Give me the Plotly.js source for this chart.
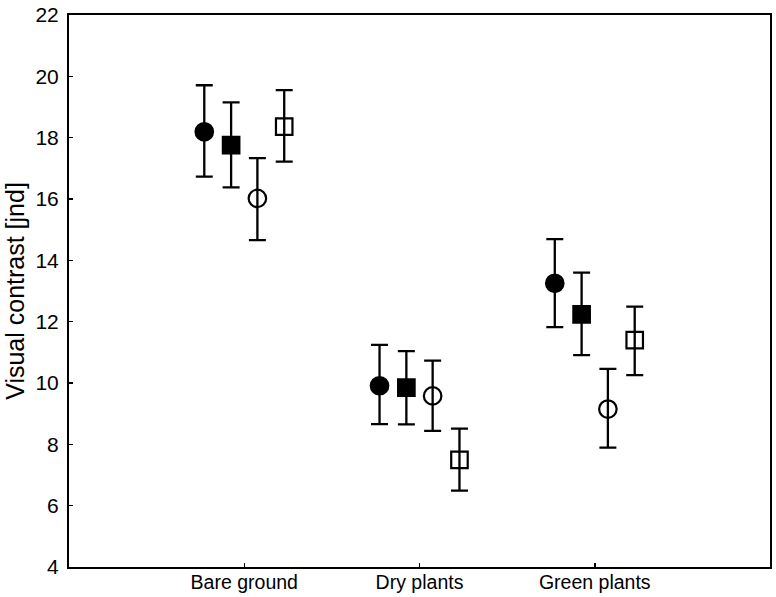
<!DOCTYPE html>
<html>
<head>
<meta charset="utf-8">
<script src="https://cdn.plot.ly/plotly-3.0.1.min.js"></script>
<style>html,body{margin:0;padding:0;background:#fff;}#chart{width:776px;height:597px;}</style>
</head>
<body>
<div id="chart"></div>
<script>
var categories = ["Bare ground", "Dry plants", "Green plants"];

// Means and error-bar extents per series
var filledCircleMean  = [18.19, 9.91, 13.25];
var filledCircleUpper = [19.71, 11.24, 14.69];
var filledCircleLower = [16.73, 8.66, 11.82];

var filledSquareMean  = [17.76, 9.85, 12.24];
var filledSquareUpper = [19.15, 11.04, 13.60];
var filledSquareLower = [16.38, 8.65, 10.91];

var openCircleMean  = [16.02, 9.58, 9.15];
var openCircleUpper = [17.33, 10.73, 10.46];
var openCircleLower = [14.66, 8.44, 7.89];

var openSquareMean  = [18.36, 7.49, 11.40];
var openSquareUpper = [19.55, 8.51, 12.49];
var openSquareLower = [17.22, 6.49, 10.26];

var yTicks = [4, 6, 8, 10, 12, 14, 16, 18, 20, 22];

var catIndex = categories.map(function(_, i){ return i + 1; });

function mk(mean, upper, lower, offset, symbol){
  return {
    type: 'scatter',
    mode: 'markers',
    x: catIndex.map(function(c){ return c + offset; }),
    y: mean,
    error_y: {
      type: 'data',
      symmetric: false,
      array: upper.map(function(u, i){ return u - mean[i]; }),
      arrayminus: lower.map(function(l, i){ return mean[i] - l; }),
      color: '#000',
      thickness: 2.3,
      width: 8.5
    },
    marker: {
      symbol: symbol,
      size: symbol.indexOf('square') >= 0 ? 16.5 : 17.5,
      color: '#000',
      line: {color: '#000', width: 2.2}
    },
    showlegend: false,
    hoverinfo: 'x+y'
  };
}

var data = [
  mk(filledCircleMean, filledCircleUpper, filledCircleLower, -0.228, 'circle'),
  mk(filledSquareMean, filledSquareUpper, filledSquareLower, -0.075, 'square'),
  mk(openCircleMean, openCircleUpper, openCircleLower, 0.075, 'circle-open'),
  mk(openSquareMean, openSquareUpper, openSquareLower, 0.228, 'square-open')
];

var layout = {
  width: 776,
  height: 597,
  margin: {l: 69, r: 6, t: 15, b: 30},
  paper_bgcolor: '#fff',
  plot_bgcolor: '#fff',
  font: {family: 'Liberation Sans, Arial, Helvetica, sans-serif', color: '#000', size: 19},
  xaxis: {
    range: [0, 4],
    tickmode: 'array',
    tickvals: catIndex,
    ticktext: categories,
    ticks: 'inside',
    ticklen: 4,
    tickwidth: 1.5,
    tickcolor: '#000',
    showline: true,
    linecolor: '#000',
    linewidth: 2,
    mirror: true,
    showgrid: false,
    zeroline: false,
    tickfont: {size: 19.5},
    ticklabelstandoff: -3
  },
  yaxis: {
    range: [4, 22],
    tickmode: 'array',
    tickvals: yTicks,
    ticktext: yTicks.map(String),
    ticks: 'inside',
    ticklen: 4,
    tickwidth: 1.5,
    tickcolor: '#000',
    showline: true,
    linecolor: '#000',
    linewidth: 2,
    mirror: true,
    showgrid: false,
    zeroline: false,
    tickfont: {size: 21},
    ticklabelstandoff: 4,
    title: {text: 'Visual contrast [jnd]', font: {size: 25}, standoff: 4}
  }
};

Plotly.newPlot('chart', data, layout, {displayModeBar: false, staticPlot: true});
</script>
</body>
</html>
